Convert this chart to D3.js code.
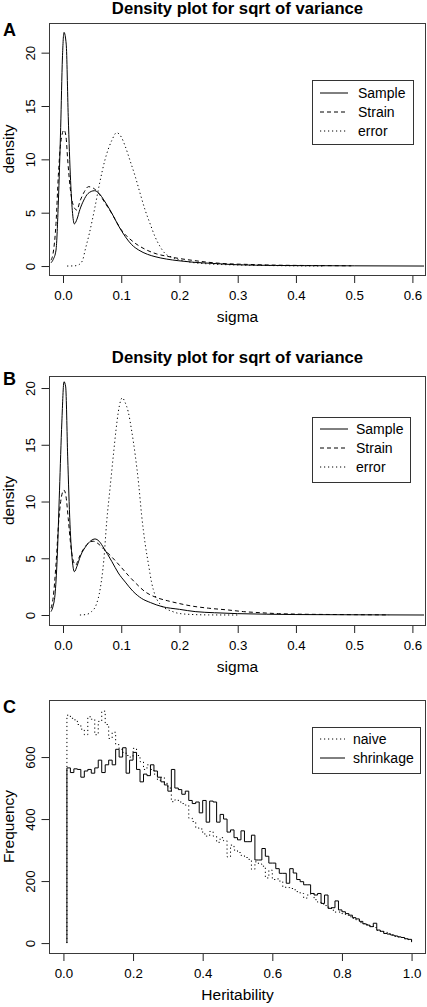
<!DOCTYPE html>
<html>
<head>
<meta charset="utf-8">
<script src="https://cdn.jsdelivr.net/npm/d3@7"></script>
<style>
  html, body { margin: 0; padding: 0; background: #fff; }
  svg { display: block; font-family: "Liberation Sans", Arial, Helvetica, sans-serif; }
</style>
</head>
<body>
<svg id="chart" width="427" height="1007"></svg>
<script>
// ---------------- DATA ----------------
const titleText = "Density plot for sqrt of variance";
const sigmaTicks = [0, 0.1, 0.2, 0.3, 0.4, 0.5, 0.6];
const densityTicks = [0, 5, 10, 15, 20];
const heritTicks = [0, 0.2, 0.4, 0.6, 0.8, 1.0];
const freqTicks = [0, 200, 400, 600];
const densityLegend = ["Sample", "Strain", "error"];
const histLegend = ["naive", "shrinkage"];

// Panel A density curves [sigma, density]
const aSample = [[-0.0206,0.3],[-0.017,0.6],[-0.012,1.5],[-0.008,6],[-0.004,13],[-0.001,19.5],[0.0017,21.9],[0.0055,20.8],[0.009,14],[0.013,8],[0.016,5.2],[0.0195,3.95],[0.024,4.4],[0.029,5.3],[0.035,6.1],[0.043,6.8],[0.054,7.06],[0.062,6.8],[0.07,6.2],[0.084,4.94],[0.095,3.8],[0.107,2.75],[0.118,2.0],[0.13,1.5],[0.145,1.1],[0.158,0.88],[0.178,0.65],[0.198,0.5],[0.225,0.35],[0.256,0.25],[0.29,0.14],[0.33,0.08],[0.4,0.04],[0.5,0.02],[0.62,0.0]];
const aStrain = [[-0.0206,0.55],[-0.017,1.2],[-0.012,4],[-0.008,8.5],[-0.004,11.5],[0.0017,12.75],[0.005,12.2],[0.008,10.0],[0.012,7.5],[0.017,5.8],[0.0235,5.25],[0.03,6.2],[0.037,7.0],[0.0436,7.44],[0.052,7.3],[0.06,6.9],[0.07,6.1],[0.084,4.9],[0.1,3.4],[0.12,2.3],[0.14,1.6],[0.16,1.15],[0.18,0.9],[0.198,0.72],[0.22,0.55],[0.25,0.35],[0.28,0.22],[0.3,0.18],[0.32,0.15],[0.35,0.1],[0.4,0.06],[0.45,0.04],[0.495,0.02]];
const aError = [[0.007,0],[0.02,0.02],[0.028,0.15],[0.034,0.6],[0.038,1.5],[0.045,3.0],[0.055,5.56],[0.063,7.8],[0.072,9.94],[0.084,11.8],[0.092,12.5],[0.1,12.1],[0.107,11.2],[0.115,9.9],[0.124,8.4],[0.133,6.7],[0.141,5.25],[0.15,3.9],[0.158,2.75],[0.167,1.8],[0.175,1.19],[0.186,0.85],[0.198,0.6],[0.22,0.35],[0.25,0.2],[0.3,0.1],[0.35,0.05],[0.45,0.0]];

// Panel B density curves [sigma, density]
const bSample = [[-0.0206,0.3],[-0.017,0.8],[-0.0138,1.76],[-0.01,5],[-0.006,11],[-0.002,17],[0.0017,20.56],[0.0046,20.1],[0.008,14],[0.012,8],[0.016,4.8],[0.0195,3.82],[0.024,4.3],[0.03,5.2],[0.04,6.1],[0.048,6.55],[0.055,6.7],[0.062,6.5],[0.07,5.9],[0.084,4.7],[0.095,3.7],[0.107,2.9],[0.12,2.1],[0.135,1.46],[0.15,1.1],[0.17,0.74],[0.2,0.5],[0.227,0.3],[0.26,0.2],[0.3,0.12],[0.35,0.07],[0.4,0.04],[0.5,0.02],[0.62,0.0]];
const bStrain = [[-0.0206,0.6],[-0.017,1.5],[-0.012,4.5],[-0.007,8.5],[-0.002,10.6],[0.0017,11.0],[0.005,10.5],[0.009,8.5],[0.013,6.3],[0.017,4.9],[0.0218,4.4],[0.027,5.0],[0.035,5.8],[0.044,6.35],[0.052,6.5],[0.06,6.3],[0.07,5.8],[0.084,5.1],[0.1,4.2],[0.112,3.5],[0.126,2.75],[0.141,2.05],[0.16,1.55],[0.18,1.25],[0.198,1.03],[0.22,0.8],[0.25,0.6],[0.284,0.44],[0.31,0.3],[0.34,0.2],[0.37,0.12],[0.4,0.08],[0.45,0.05],[0.5,0.03],[0.56,0.01]];
const bError = [[0.029,0.0],[0.04,0.05],[0.049,0.3],[0.057,0.9],[0.064,2.35],[0.07,4.8],[0.075,8.2],[0.081,11.3],[0.0865,14.1],[0.091,16.3],[0.095,17.9],[0.099,18.9],[0.102,19.15],[0.106,18.8],[0.112,17.9],[0.118,16.2],[0.124,14.1],[0.13,11.5],[0.135,8.8],[0.141,6.3],[0.147,4.4],[0.152,2.9],[0.158,1.76],[0.166,1.0],[0.175,0.6],[0.186,0.35],[0.198,0.15],[0.22,0.05],[0.25,0.01],[0.3,0.0]];

// Panel C histogram steps
const heritBins = [0.01,0.02,0.03,0.04,0.05,0.06,0.07,0.08,0.09,0.10,0.11,0.12,0.13,0.14,0.15,0.16,0.17,0.18,0.19,0.20,0.21,0.22,0.23,0.24,0.25,0.26,0.27,0.28,0.29,0.30,0.31,0.32,0.33,0.34,0.35,0.36,0.37,0.38,0.39,0.40,0.41,0.42,0.43,0.44,0.45,0.46,0.47,0.48,0.49,0.50,0.51,0.52,0.53,0.54,0.55,0.56,0.57,0.58,0.59,0.60,0.61,0.62,0.63,0.64,0.65,0.66,0.67,0.68,0.69,0.70,0.71,0.72,0.73,0.74,0.75,0.76,0.77,0.78,0.79,0.80,0.81,0.82,0.83,0.84,0.85,0.86,0.87,0.88,0.89,0.90,0.91,0.92,0.93,0.94,0.95,0.96,0.97,0.98,0.99,1.00];
const naiveCounts = [735,725,720,705,690,672,730,722,672,715,748,705,660,680,640,625,615,605,600,628,605,585,560,575,560,545,525,535,515,500,456,462,455,450,445,403,392,371,368,352,345,360,345,325,340,330,278,316,300,292,283,276,270,238,262,255,248,210,235,205,207,200,180,179,176,172,166,160,145,155,160,140,132,126,121,116,106,100,100,95,90,85,80,75,66,63,60,55,50,41,38,35,30,26,22,20,18,14,10,5];
const shrinkCounts = [565,550,562,560,535,555,560,548,565,590,550,575,590,575,625,600,630,548,590,615,560,520,545,540,575,555,535,520,510,490,560,500,495,480,490,460,450,455,420,460,390,458,455,390,415,400,358,365,340,333,362,327,327,348,268,268,305,280,258,258,240,225,225,193,240,226,205,198,188,188,160,155,160,128,155,112,114,136,107,101,95,90,82,78,70,62,58,53,64,42,38,31,29,26,23,20,18,14,12,3];

// ---------------- DRAWING ----------------
const svg = d3.select("#chart");
const FONT_TICK = 13.3, FONT_LAB = 15.5, FONT_TITLE = 16.7, FONT_LEG = 14, FONT_TAG = 18;
const DASH = { solid: null, dashed: "4,3", dotted: "1.2,2.8" };
const L = 49.5, R = 425.5;

function drawFrame(cfg) {
  const g = svg.append("g");
  const x = d3.scaleLinear().domain(cfg.xDomain).range([L, R]);
  const y = d3.scaleLinear().domain(cfg.yDomain).range([cfg.bottom, cfg.top]);

  // x axis
  const xAxis = d3.axisBottom(x).tickValues(cfg.xTicks).tickSize(8).tickPadding(3)
    .tickFormat(d3.format(".1f"));
  const gx = g.append("g").attr("transform", `translate(0,${cfg.bottom})`).call(xAxis);
  gx.select(".domain").remove();
  gx.selectAll(".tick line").attr("stroke", "#222");
  gx.selectAll(".tick text").attr("font-size", FONT_TICK).attr("fill", "#000")
    .attr("y", 25).attr("dy", null).attr("font-family", "Liberation Sans, Arial, sans-serif");

  // y axis
  const yAxis = d3.axisLeft(y).tickValues(cfg.yTicks).tickSize(8).tickFormat(d3.format("d"));
  const gy = g.append("g").attr("transform", `translate(${L},0)`).call(yAxis);
  gy.select(".domain").remove();
  gy.selectAll(".tick line").attr("stroke", "#222");
  gy.selectAll(".tick text").attr("font-size", FONT_TICK).attr("fill", "#000")
    .attr("x", null).attr("dy", null).attr("text-anchor", "middle")
    .attr("transform", "translate(-14.5,0) rotate(-90)")
    .attr("font-family", "Liberation Sans, Arial, sans-serif");

  // box
  g.append("rect").attr("x", L).attr("y", cfg.top + 0.5)
    .attr("width", R - L).attr("height", cfg.bottom - cfg.top)
    .attr("fill", "none").attr("stroke", "#3a3a3a").attr("stroke-width", 1);

  // axis titles
  g.append("text").attr("x", (L + R) / 2).attr("y", cfg.bottom + 47)
    .attr("text-anchor", "middle").attr("font-size", FONT_LAB).text(cfg.xLabel);
  g.append("text").attr("text-anchor", "middle").attr("font-size", FONT_LAB)
    .attr("transform", `translate(14,${(cfg.top + cfg.bottom) / 2}) rotate(-90)`)
    .text(cfg.yLabel);

  if (cfg.title) {
    g.append("text").attr("x", (L + R) / 2).attr("y", cfg.titleY)
      .attr("text-anchor", "middle").attr("font-size", FONT_TITLE)
      .attr("font-weight", "bold").text(cfg.title);
  }
  g.append("text").attr("x", 3).attr("y", cfg.tagY).attr("font-size", FONT_TAG)
    .attr("font-weight", "bold").text(cfg.tag);

  return { g, x, y };
}

function drawLegend(g, items, box) {
  const lg = g.append("g");
  lg.append("rect").attr("x", box.x + 0.5).attr("y", box.y + 0.5)
    .attr("width", box.w).attr("height", box.h)
    .attr("fill", "#fff").attr("stroke", "#333").attr("stroke-width", 1);
  items.forEach((it, i) => {
    const yy = box.y + box.first + i * box.step;
    lg.append("line").attr("x1", box.x + 8).attr("x2", box.x + 8 + box.lineLen)
      .attr("y1", yy).attr("y2", yy).attr("stroke", "#000").attr("stroke-width", 1)
      .attr("stroke-dasharray", DASH[it.style]);
    lg.append("text").attr("x", box.x + box.textOff).attr("y", yy).attr("dy", "0.36em")
      .attr("font-size", FONT_LEG).text(it.label);
  });
}

function densityPanel(cfg, sample, strain, error) {
  const { g, x, y } = drawFrame(cfg);
  const line = d3.line().x(d => x(d[0])).y(d => y(d[1])).curve(d3.curveMonotoneX);
  [[error, "dotted"], [strain, "dashed"], [sample, "solid"]].forEach(([data, st]) => {
    g.append("path").attr("d", line(data)).attr("fill", "none")
      .attr("stroke", "#000").attr("stroke-width", 1)
      .attr("stroke-dasharray", DASH[st]);
  });
  drawLegend(g, [
    { label: densityLegend[0], style: "solid" },
    { label: densityLegend[1], style: "dashed" },
    { label: densityLegend[2], style: "dotted" }
  ], cfg.legend);
}

// Panel A
densityPanel({
  xDomain: [-0.0232, 0.6225], yDomain: [-0.84, 22.78], top: 23, bottom: 275,
  xTicks: sigmaTicks, yTicks: densityTicks, xLabel: "sigma", yLabel: "density",
  title: titleText, titleY: 14, tag: "A", tagY: 36,
  legend: { x: 312, y: 80, w: 101, h: 64, first: 13, step: 19, lineLen: 28, textOff: 46 }
}, aSample, aStrain, aError);

// Panel B
densityPanel({
  xDomain: [-0.0232, 0.6225], yDomain: [-0.88, 21.06], top: 376, bottom: 625,
  xTicks: sigmaTicks, yTicks: densityTicks, xLabel: "sigma", yLabel: "density",
  title: titleText, titleY: 363, tag: "B", tagY: 385,
  legend: { x: 312, y: 417, w: 98, h: 65, first: 12, step: 19, lineLen: 28, textOff: 44 }
}, bSample, bStrain, bError);

// Panel C
(function () {
  const cfg = {
    xDomain: [-0.04, 1.04], yDomain: [-32, 784], top: 700, bottom: 953,
    xTicks: heritTicks, yTicks: freqTicks, xLabel: "Heritability", yLabel: "Frequency",
    title: null, tag: "C", tagY: 713
  };
  const { g, x, y } = drawFrame(cfg);
  const step = d3.line().x(d => x(d[0])).y(d => y(d[1])).curve(d3.curveStepAfter);
  const mk = counts => [[heritBins[0], 0]].concat(heritBins.map((b, i) => [b, counts[i]]));
  g.append("path").attr("d", step(mk(naiveCounts))).attr("fill", "none")
    .attr("stroke", "#000").attr("stroke-width", 1).attr("stroke-dasharray", DASH.dotted);
  g.append("path").attr("d", step(mk(shrinkCounts))).attr("fill", "none")
    .attr("stroke", "#000").attr("stroke-width", 1);
  drawLegend(g, [
    { label: histLegend[0], style: "dotted" },
    { label: histLegend[1], style: "solid" }
  ], { x: 312, y: 727, w: 108, h: 46, first: 12, step: 19, lineLen: 25, textOff: 41 });
})();
</script>
</body>
</html>
